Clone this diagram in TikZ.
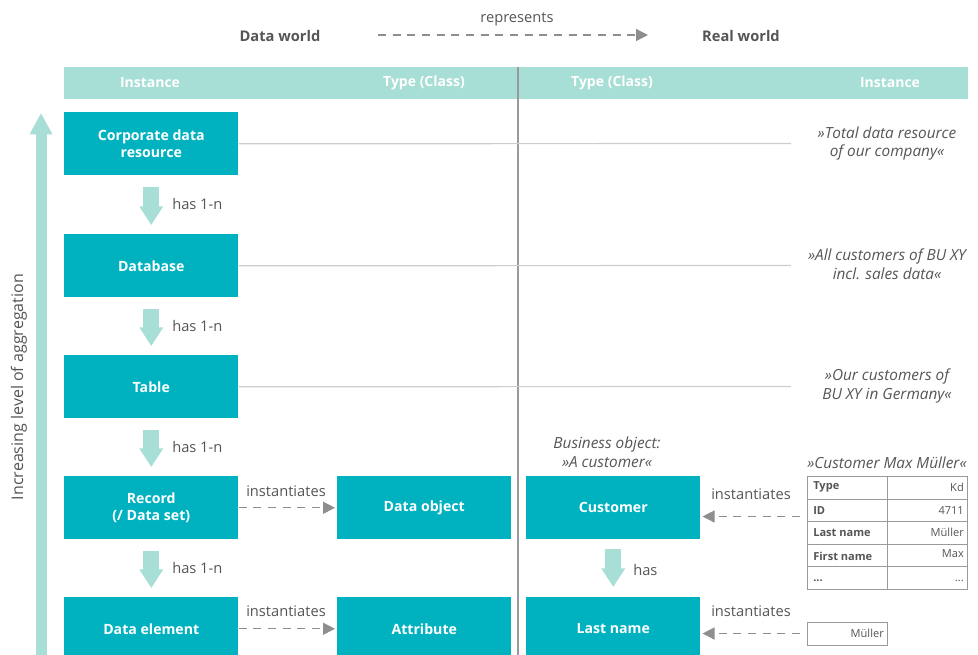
\documentclass[tikz,border=0pt]{standalone}
\usepackage{fontspec}
\setmainfont{Open Sans}
\usetikzlibrary{arrows.meta}
\definecolor{boxteal}{HTML}{00B1BF}
\definecolor{mint}{HTML}{A7DED6}
\definecolor{txt}{HTML}{555555}
\definecolor{arr}{HTML}{8E8E8E}
\definecolor{rulegray}{HTML}{CDCDCD}
\definecolor{divgray}{HTML}{9A9A9A}
\tikzset{
  tealbox/.style={fill=boxteal, text=white, font=\fontsize{10.6}{13}\selectfont\bfseries,
    minimum width=130.5pt, minimum height=47.25pt, align=center, inner sep=0pt, anchor=north west},
  headtxt/.style={text=white, font=\fontsize{10.5}{12}\selectfont\bfseries, inner sep=0pt},
  worldtxt/.style={text=txt, font=\fontsize{11}{12}\selectfont\bfseries, inner sep=0pt},
  lbl/.style={text=txt, font=\fontsize{11}{12}\selectfont, inner sep=0pt},
  itl/.style={text=txt, font=\fontsize{11.5}{14.2}\selectfont\itshape, align=center, inner sep=0pt},
  blockarrow/.style={draw=mint, line width=12pt, -{Triangle[width=17pt,length=14pt]}},
  dasharrow/.style={draw=arr, line width=1pt, dash pattern=on 6pt off 5pt, -{Triangle[width=9pt,length=9pt]}},
  hrule/.style={draw=rulegray, line width=0.9pt},
  cellbox/.style={draw=divgray, line width=0.8pt, minimum width=60pt, minimum height=16.9pt, inner sep=0pt, anchor=north west},
  cellL/.style={text=txt, font=\fontsize{8.3}{9}\selectfont\bfseries, inner sep=0pt, anchor=west},
  cellR/.style={text=txt, font=\fontsize{8.3}{9}\selectfont, inner sep=0pt, anchor=east},
}
\begin{document}
\begin{tikzpicture}[x=0.75pt,y=-0.75pt]
\useasboundingbox (0,0) rectangle (978,654);
\clip (0,0) rectangle (978,654);

% header band
\fill[mint] (64,67) rectangle (968,99);
\node[headtxt] (h1) at (150,83) {Instance};
\node[headtxt] (h2) at (424,83) {Type (Class)};
\node[headtxt] (h3) at (612,83) {Type (Class)};
\node[headtxt] (h4) at (890,83) {Instance};
\draw[divgray, line width=1.2pt] (518,67) -- (518,660);

% top
\node[worldtxt] (dw) at (280,36) {Data world};
\node[worldtxt] (rw) at (741,36) {Real world};
\node[lbl] (rep) at (517,19) {represents};
\coordinate (repA) at (378,35);
\coordinate (repB) at (648,35);
\draw[dasharrow] (repA) -- (repB);

% left column boxes
\node[tealbox] (corp) at (64,112) {Corporate data\\resource};
\node[tealbox] (db) at (64,234) {Database};
\node[tealbox] (tab) at (64,355) {Table};
\node[tealbox] (rec) at (64,476) {Record\\(/ Data set)};
\node[tealbox] (del) at (64,597) {Data element};

\node[tealbox] (dobj) at (337,476) {Data object};
\node[tealbox] (attr) at (337,597) {Attribute};
\node[tealbox] (cust) at (526,476) {Customer};
\node[tealbox] (lname) at (526,597) {Last name};

% block arrows
\draw[blockarrow] ([yshift=-8.25pt]corp.south) -- ([yshift=6.75pt]db.north);
\draw[blockarrow] ([yshift=-8.25pt]db.south) -- ([yshift=6.75pt]tab.north);
\draw[blockarrow] ([yshift=-8.25pt]tab.south) -- ([yshift=6.75pt]rec.north);
\draw[blockarrow] ([yshift=-8.25pt]rec.south) -- ([yshift=6.75pt]del.north);
\draw[blockarrow] ([yshift=-7pt]cust.south) -- ([yshift=7.5pt]lname.north);
\node[lbl, anchor=west] (l1) at (172,204) {has 1-n};
\node[lbl, anchor=west] (l2) at (172,326) {has 1-n};
\node[lbl, anchor=west] (l3) at (172,447) {has 1-n};
\node[lbl, anchor=west] (l4) at (172,568) {has 1-n};
\node[lbl, anchor=west] (l5) at (633,570) {has};

% left big arrow
\coordinate (bigA) at (41,660);
\coordinate (bigB) at (41,113);
\draw[draw=mint, line width=8.25pt, -{Triangle[width=16pt,length=16pt]}] (bigA) -- (bigB);
\node[lbl, rotate=90, font=\fontsize{12}{13}\selectfont] (agg) at (19,387) {Increasing level of aggregation};

% gray rules
\coordinate (r1) at (791,143.5);
\coordinate (r2) at (791,265.5);
\coordinate (r3) at (791,386.5);
\draw[hrule] (corp.east) -- (r1);
\draw[hrule] (db.east) -- (r2);
\draw[hrule] (tab.east) -- (r3);

% right italic texts
\node[itl] (t1) at (887,143.5) {»Total data resource\\of our company«};
\node[itl] (t2) at (887,264.5) {»All customers of BU XY\\incl. sales data«};
\node[itl] (t3) at (887,386) {»Our customers of\\BU XY in Germany«};
\node[itl] (t4) at (607,452) {Business object:\\»A customer«};
\node[itl] (t5) at (887,463) {»Customer Max Müller«};

% instantiates arrows
\draw[dasharrow] (rec.east) -- ([xshift=-1.5pt]dobj.west);
\draw[dasharrow] (del.east) -- ([xshift=-1.5pt]attr.west);
\node[lbl] (i1) at (286,491) {instantiates};
\node[lbl] (i2) at (286,611) {instantiates};
\node[lbl] (i3) at (751,494) {instantiates};
\node[lbl] (i4) at (751,611) {instantiates};

% table
\node[cellbox] (c11) at (807,476) {};
\node[cellbox] (c12) at (887,476) {};
\node[cellbox] (c21) at (807,498.5) {};
\node[cellbox] (c22) at (887,498.5) {};
\node[cellbox] (c31) at (807,521) {};
\node[cellbox] (c32) at (887,521) {};
\node[cellbox] (c41) at (807,543.5) {};
\node[cellbox] (c42) at (887,543.5) {};
\node[cellbox] (c51) at (807,566) {};
\node[cellbox] (c52) at (887,566) {};
\node[cellL] at ([xshift=4.5pt,yshift=1pt]c11.west) {Type};
\node[cellL] at ([xshift=4.5pt]c21.west) {ID};
\node[cellL] at ([xshift=4.5pt]c31.west) {Last name};
\node[cellL] at ([xshift=4.5pt,yshift=-1pt]c41.west) {First name};
\node[cellL] at ([xshift=4.5pt,yshift=-2pt]c51.west) {...};
\node[cellR] at ([xshift=-3pt]c12.east) {Kd};
\node[cellR] at ([xshift=-3pt]c22.east) {4711};
\node[cellR] at ([xshift=-3pt]c32.east) {Müller};
\node[cellR] at ([xshift=-3pt,yshift=1pt]c42.east) {Max};
\node[cellR] at ([xshift=-3pt,yshift=-2pt]c52.east) {...};
\node[cellbox] (mbox) at (807,622) {};
\node[cellR] at ([xshift=-3pt]mbox.east) {Müller};

\coordinate (ra) at (800,516.5);
\coordinate (rb) at (800,633.5);
\draw[dasharrow] (ra) -- ([xshift=1.5pt]cust.east |- ra);
\draw[dasharrow] (rb) -- ([xshift=1.5pt]lname.east |- rb);
\end{tikzpicture}
\end{document}
